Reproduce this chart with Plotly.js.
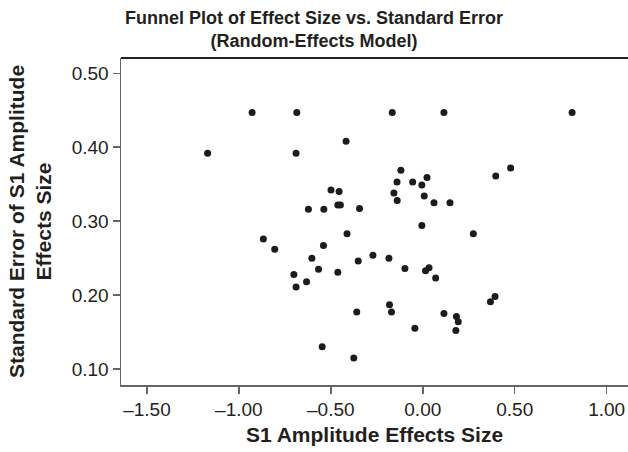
<!DOCTYPE html>
<html>
<head>
<meta charset="utf-8">
<script src="https://cdn.plot.ly/plotly-3.0.1.min.js"></script>
<style>html,body{margin:0;padding:0;background:#fff;}#chart{width:628px;height:452px;}</style>
</head>
<body>
<div id="chart"></div>
<script>
// Effect sizes (x) and standard errors (y)
const effectSize = [
  -1.170, -0.928, -0.685, -0.689, -0.499, -0.455, -0.622, -0.538, -0.462, -0.448,
  -0.867, -0.805, -0.540, -0.603, -0.567, -0.701, -0.689, -0.632, -0.462, -0.547,
  -0.166, 0.115, 0.812, -0.417, -0.119, -0.140, -0.055, -0.005, 0.023, 0.397,
  0.478, -0.344, -0.157, -0.139, 0.008, 0.061, 0.148, -0.005, -0.412, 0.275,
  -0.351, -0.271, -0.184, -0.097, 0.015, 0.034, 0.070, 0.368, 0.393, -0.359,
  -0.181, -0.170, 0.115, 0.183, 0.193, 0.180, -0.043, -0.375
];
const standardError = [
  0.392, 0.447, 0.447, 0.392, 0.342, 0.340, 0.316, 0.316, 0.322, 0.322,
  0.276, 0.262, 0.267, 0.250, 0.235, 0.228, 0.211, 0.218, 0.231, 0.130,
  0.447, 0.447, 0.447, 0.408, 0.369, 0.353, 0.353, 0.349, 0.359, 0.361,
  0.372, 0.317, 0.338, 0.328, 0.334, 0.325, 0.325, 0.294, 0.283, 0.283,
  0.246, 0.254, 0.250, 0.236, 0.233, 0.237, 0.223, 0.191, 0.198, 0.177,
  0.187, 0.177, 0.175, 0.171, 0.164, 0.152, 0.155, 0.115
];
const xTickVals = [-1.5, -1.0, -0.5, 0.0, 0.5, 1.0];
const xTickText = ["\u20131.50", "\u20131.00", "\u20130.50", "0.00", "0.50", "1.00"];
const yTickVals = [0.10, 0.20, 0.30, 0.40, 0.50];
const yTickText = ["0.10", "0.20", "0.30", "0.40", "0.50"];
const chartTitle = "<b>Funnel Plot of Effect Size vs. Standard Error<br>(Random-Effects Model)</b>";

const font = "Liberation Sans, Arial, sans-serif";
const ink = "#231f20";
const trace = {
  x: effectSize, y: standardError, type: "scatter", mode: "markers",
  marker: {color: "#1c1c1c", size: 7}, hoverinfo: "x+y"
};
const layout = {
  width: 628, height: 452,
  margin: {l: 121, r: 0, t: 58, b: 67},
  paper_bgcolor: "#fff", plot_bgcolor: "#fff",
  showlegend: false,
  font: {family: font, color: ink},
  xaxis: {
    range: [-1.641, 1.116], tickvals: xTickVals, ticktext: xTickText,
    showgrid: false, zeroline: false, showline: true, linecolor: "#666", linewidth: 1.5,
    ticks: "outside", ticklen: 7, tickcolor: "#666", tickwidth: 1.5,
    tickfont: {family: font, size: 19, color: ink},
    title: {text: "<b>S1 Amplitude Effects Size</b>", font: {family: font, size: 21, color: ink}, standoff: 8}
  },
  yaxis: {
    range: [0.0784, 0.5207], tickvals: yTickVals, ticktext: yTickText,
    showgrid: false, zeroline: false, showline: true, linecolor: "#666", linewidth: 1.5,
    ticks: "outside", ticklen: 7, tickcolor: "#666", tickwidth: 1.5,
    tickfont: {family: font, size: 19, color: ink},
    title: {text: "<b>Standard Error of S1 Amplitude<br>Effects Size</b>", font: {family: font, size: 21, color: ink}, standoff: 14}
  },
  annotations: [{
    text: chartTitle, showarrow: false,
    xref: "paper", yref: "paper", x: 0.381, y: 1.16, xanchor: "center", yanchor: "top",
    font: {family: font, size: 18, color: ink}, align: "center"
  }],
  shapes: [
    {type: "line", xref: "paper", yref: "paper", x0: 0, x1: 1, y0: 1, y1: 1, line: {color: "#222", width: 2}}
  ]
};
Plotly.newPlot("chart", [trace], layout, {displayModeBar: false, staticPlot: true});
</script>
</body>
</html>
